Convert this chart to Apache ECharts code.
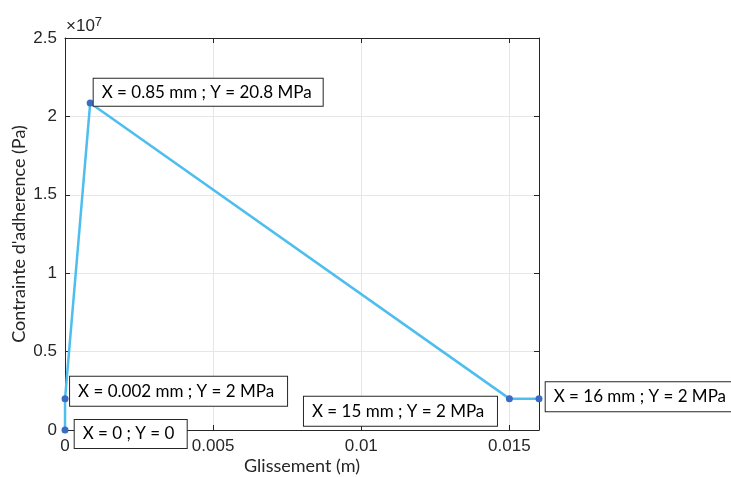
<!DOCTYPE html>
<html>
<head>
<meta charset="utf-8">
<script src="https://cdn.jsdelivr.net/npm/echarts@6/dist/echarts.min.js"></script>
<style>
html,body{margin:0;padding:0;background:#fff;}
#chart{width:731px;height:477px;}
</style>
</head>
<body>
<div id="chart"></div>
<script>
// ---- data ----
const xValues = [0, 0.000002, 0.00085, 0.015, 0.016];          // Glissement (m)
const yValues = [0, 2e6, 2.085e7, 2e6, 2e6];                     // Contrainte (Pa)
const tipLabels = [
  'X = 0 ; Y = 0',
  'X = 0.002 mm ; Y = 2 MPa',
  'X = 0.85 mm ; Y = 20.8 MPa',
  'X = 15 mm ; Y = 2 MPa',
  'X = 16 mm ; Y = 2 MPa'
];
const xTicks = [0, 0.005, 0.01, 0.015];
const yTicks = [0, 0.5, 1, 1.5, 2, 2.5];   // x 10^7
const xName = 'Glissement (m)';
const yName = "Contrainte d'adherence (Pa)";

// ---- styling (label box placement relative to point centre) ----
const tipFont = 'Lato, "Noto Sans", sans-serif';
const tickFont = '"Liberation Sans", Arial, sans-serif';
const tipPlace = [
  {dx: 9.7, dy: -10, w: 114, h: 30},
  {dx: 5, dy: -22, w: 219, h: 31},
  {dx: 3.5, dy: -24.3, w: 231, h: 29},
  {dx: -205.4, dy: -2, w: 195, h: 31},
  {dx: 6.7, dy: -16.3, w: 190, h: 31}
];
const SYM = 7;

const chart = echarts.init(document.getElementById('chart'), null, {renderer: 'canvas'});

const data = xValues.map((x, i) => {
  const p = tipPlace[i];
  return {
    value: [x, yValues[i]],
    label: {
      show: true,
      formatter: tipLabels[i],
      position: [p.dx + SYM / 2, p.dy + SYM / 2],
      align: 'left',
      verticalAlign: 'top',
      width: p.w - 18,
      height: p.h - 2,
      lineHeight: p.h - 2,
      padding: [0, 8, 0, 8],
      backgroundColor: '#fff',
      borderColor: '#262626',
      borderWidth: 1,
      color: '#000',
      fontSize: 17,
      fontFamily: tipFont
    }
  };
});

const axisLineStyle = {color: '#262626', width: 1};

chart.setOption({
  animation: false,
  backgroundColor: '#fff',
  grid: {left: 65, right: 192, top: 38, bottom: 47, containLabel: false, outerBoundsMode: 'none'},
  xAxis: [
    {
      type: 'value', min: 0, max: 0.016, interval: 0.005,
      position: 'bottom',
      axisLine: {show: true, onZero: false, lineStyle: axisLineStyle},
      axisTick: {show: true, inside: true, length: 5, lineStyle: axisLineStyle},
      axisLabel: {
        color: '#262626', fontSize: 17, fontFamily: tickFont, margin: 8,
        showMaxLabel: false,
        formatter: v => (xTicks.some(t => Math.abs(t - v) < 1e-9) ? String(+v.toFixed(4)) : '')
      },
      splitLine: {show: true, lineStyle: {color: '#e6e6e6', width: 1}},
      name: xName, nameLocation: 'middle', nameGap: 27, nameMoveOverlap: false,
      nameTextStyle: {color: '#262626', fontSize: 18, fontFamily: tipFont}
    },
    {
      type: 'value', min: 0, max: 0.016, interval: 0.005,
      position: 'top',
      axisLine: {show: true, onZero: false, lineStyle: axisLineStyle},
      axisTick: {show: true, inside: true, length: 5, lineStyle: axisLineStyle},
      axisLabel: {show: false},
      splitLine: {show: false}
    }
  ],
  yAxis: [
    {
      type: 'value', min: 0, max: 2.5e7, interval: 5e6,
      position: 'left',
      axisLine: {show: true, onZero: false, lineStyle: axisLineStyle},
      axisTick: {show: true, inside: true, length: 5, lineStyle: axisLineStyle},
      axisLabel: {
        color: '#262626', fontSize: 17, fontFamily: tickFont, margin: 8,
        formatter: v => String(+(v / 1e7).toFixed(2))
      },
      splitLine: {show: true, lineStyle: {color: '#e6e6e6', width: 1}},
      name: yName, nameLocation: 'middle', nameGap: 37, nameRotate: 90, nameMoveOverlap: false,
      nameTextStyle: {color: '#262626', fontSize: 18, fontFamily: tipFont}
    },
    {
      type: 'value', min: 0, max: 2.5e7, interval: 5e6,
      position: 'right',
      axisLine: {show: true, onZero: false, lineStyle: axisLineStyle},
      axisTick: {show: true, inside: true, length: 5, lineStyle: axisLineStyle},
      axisLabel: {show: false},
      splitLine: {show: false}
    }
  ],
  graphic: [{
    type: 'text', left: 66, top: 16,
    style: {
      text: '{a|×10}{b|7}',
      rich: {
        a: {fontSize: 17, fontFamily: tickFont, fill: '#262626', color: '#262626'},
        b: {fontSize: 13, fontFamily: tickFont, fill: '#262626', color: '#262626', verticalAlign: 'top', padding: [0, 0, 8, 0]}
      }
    }
  }],
  series: [{
    type: 'line',
    data: data,
    symbol: 'circle',
    symbolSize: SYM,
    showAllSymbol: true,
    clip: false,
    itemStyle: {color: '#3a6cc6'},
    lineStyle: {color: '#4dbeee', width: 2.5},
    z: 3
  }]
});
</script>
</body>
</html>
